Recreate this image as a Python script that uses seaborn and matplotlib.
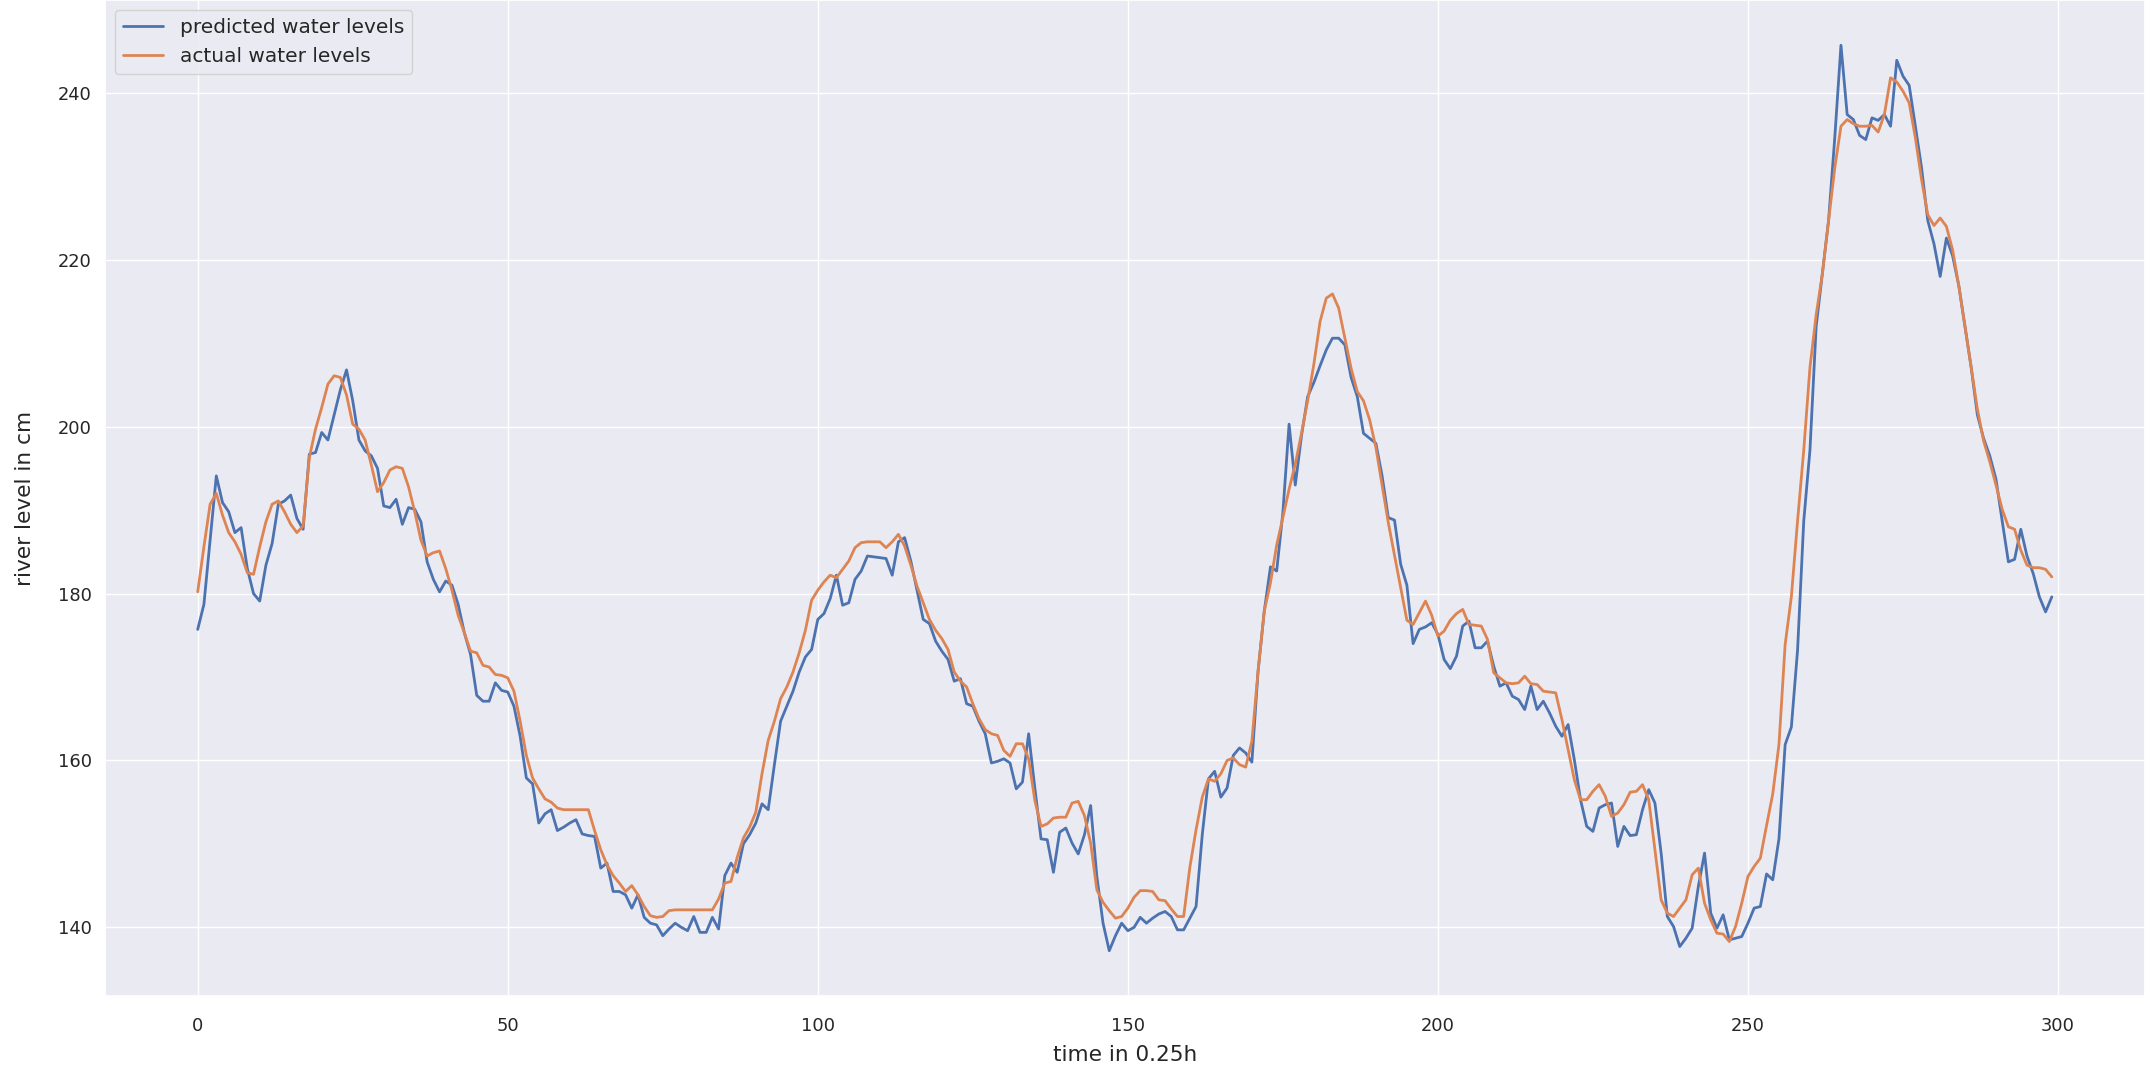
import numpy as np
import pandas as pd
import matplotlib
matplotlib.use("Agg")
import matplotlib.pyplot as plt
import seaborn as sns

predicted = [
    175.7, 178.7, 186.4, 194.1, 190.9, 189.8, 187.3, 187.9, 183.0, 180.0,
    179.1, 183.4, 186.0, 190.7, 191.1, 191.8, 189.0, 187.7, 196.7, 196.9,
    199.3, 198.4, 201.4, 204.4, 206.8, 203.1, 198.4, 197.1, 196.5, 195.0,
    190.5, 190.3, 191.3, 188.3, 190.3, 190.1, 188.6, 183.8, 181.7, 180.2,
    181.5, 181.0, 178.7, 175.3, 172.7, 167.8, 167.1, 167.1, 169.3, 168.4,
    168.2, 166.5, 162.9, 157.9, 157.2, 152.5, 153.6, 154.1, 151.6, 152.0,
    152.5, 152.9, 151.2, 151.0, 150.9, 147.1, 147.7, 144.3, 144.3, 143.9,
    142.3, 143.9, 141.2, 140.5, 140.3, 139.0, 139.8, 140.5, 140.0, 139.6,
    141.3, 139.4, 139.4, 141.2, 139.8, 146.2, 147.7, 146.6, 150.0, 151.1,
    152.5, 154.8, 154.1, 159.5, 164.7, 166.5, 168.3, 170.6, 172.4, 173.3,
    176.9, 177.6, 179.4, 182.2, 178.6, 178.9, 181.7, 182.7, 184.5, 184.4,
    184.3, 184.2, 182.2, 186.2, 186.7, 183.9, 180.4, 176.9, 176.4, 174.3,
    173.1, 172.1, 169.5, 169.8, 166.8, 166.5, 164.7, 163.2, 159.7, 159.9,
    160.2, 159.7, 156.6, 157.4, 163.2, 156.7, 150.6, 150.5, 146.6, 151.4,
    151.9, 150.1, 148.8, 151.1, 154.6, 146.1, 140.5, 137.2, 139.0, 140.5,
    139.6, 140.0, 141.2, 140.5, 141.1, 141.6, 141.9, 141.3, 139.7, 139.7,
    141.1, 142.5, 151.1, 157.8, 158.7, 155.6, 156.7, 160.6, 161.5, 160.9,
    159.8, 170.7, 177.9, 183.2, 182.7, 189.7, 200.3, 193.0, 198.9, 203.6,
    205.3, 207.3, 209.2, 210.6, 210.6, 209.8, 205.9, 203.6, 199.2, 198.6,
    198.0, 194.1, 189.1, 188.8, 183.5, 181.0, 174.0, 175.7, 176.0, 176.5,
    175.1, 172.1, 171.0, 172.5, 176.1, 176.7, 173.5, 173.5, 174.3, 171.3,
    168.9, 169.3, 167.7, 167.3, 166.1, 168.9, 166.1, 167.1, 165.7, 164.1,
    162.9, 164.3, 160.1, 155.3, 152.1, 151.5, 154.3, 154.7, 154.9, 149.7,
    152.1, 151.0, 151.1, 154.1, 156.5, 154.9, 148.9, 141.3, 140.1, 137.7,
    138.7, 139.9, 144.9, 148.9, 141.7, 139.9, 141.5, 138.5, 138.7, 138.9,
    140.5, 142.3, 142.5, 146.4, 145.7, 150.6, 161.9, 164.0, 173.2, 188.7,
    197.2, 212.0, 218.3, 224.7, 234.6, 245.7, 237.4, 236.8, 234.9, 234.4,
    237.0, 236.7, 237.4, 236.0, 243.9, 242.0, 240.9, 236.0, 231.0, 224.7,
    221.9, 218.0, 222.6, 220.5, 216.9, 212.0, 207.1, 201.4, 198.6, 196.5,
    193.7, 188.7, 183.8, 184.1, 187.7, 184.5, 182.4, 179.6, 177.8, 179.6,
]

actual = [
    180.2, 185.6, 190.7, 192.0, 189.4, 187.3, 186.2, 184.7, 182.5, 182.3,
    185.6, 188.6, 190.7, 191.1, 189.8, 188.3, 187.3, 188.1, 196.3, 199.7,
    202.3, 205.1, 206.1, 205.9, 203.8, 200.3, 199.7, 198.4, 195.4, 192.2,
    193.3, 194.8, 195.2, 195.0, 192.8, 189.8, 186.4, 184.5, 184.9, 185.1,
    183.0, 180.4, 177.4, 175.3, 173.1, 172.9, 171.4, 171.2, 170.3, 170.2,
    169.9, 168.3, 164.7, 160.6, 157.9, 156.6, 155.4, 155.0, 154.3, 154.1,
    154.1, 154.1, 154.1, 154.1, 151.6, 149.3, 147.5, 146.2, 145.3, 144.3,
    145.0, 143.9, 142.5, 141.4, 141.2, 141.3, 142.0, 142.1, 142.1, 142.1,
    142.1, 142.1, 142.1, 142.1, 143.4, 145.3, 145.5, 148.4, 150.7, 152.0,
    153.8, 158.4, 162.4, 164.7, 167.4, 168.8, 170.6, 172.9, 175.6, 179.2,
    180.4, 181.4, 182.2, 181.9, 182.9, 183.9, 185.5, 186.1, 186.2, 186.2,
    186.2, 185.5, 186.2, 187.1, 185.7, 183.4, 180.9, 178.9, 176.9, 175.6,
    174.6, 173.3, 170.6, 169.5, 168.8, 166.8, 165.0, 163.7, 163.2, 163.0,
    161.2, 160.5, 162.0, 162.0, 160.2, 155.2, 152.1, 152.4, 153.1, 153.2,
    153.2, 154.9, 155.1, 153.4, 150.1, 144.5, 143.0, 142.0, 141.1, 141.3,
    142.3, 143.6, 144.4, 144.4, 144.3, 143.3, 143.2, 142.2, 141.3, 141.3,
    147.2, 151.7, 155.6, 157.8, 157.5, 158.4, 160.0, 160.3, 159.5, 159.2,
    162.3, 170.7, 177.9, 181.3, 185.8, 189.1, 192.5, 195.5, 199.2, 203.1,
    207.5, 212.6, 215.4, 215.9, 214.2, 210.6, 207.0, 204.2, 203.1, 200.8,
    197.5, 193.0, 188.5, 184.6, 180.7, 176.8, 176.3, 177.7, 179.1, 177.4,
    174.9, 175.5, 176.8, 177.6, 178.1, 176.3, 176.2, 176.1, 174.5, 170.5,
    169.9, 169.3, 169.2, 169.3, 170.1, 169.2, 169.1, 168.3, 168.2, 168.1,
    164.9, 161.3, 157.7, 155.3, 155.3, 156.3, 157.1, 155.7, 153.3, 153.7,
    154.7, 156.2, 156.3, 157.1, 155.3, 149.3, 143.3, 141.7, 141.3, 142.3,
    143.3, 146.3, 147.1, 142.9, 140.9, 139.3, 139.2, 138.3, 140.1, 142.9,
    146.1, 147.3, 148.3, 152.2, 156.0, 161.9, 173.9, 179.6, 188.7, 197.2,
    207.1, 213.4, 218.3, 224.7, 231.0, 236.0, 236.8, 236.3, 236.0, 236.0,
    236.1, 235.3, 237.4, 241.8, 241.3, 240.2, 238.8, 234.6, 229.6, 225.4,
    224.1, 225.0, 224.0, 221.2, 216.9, 212.0, 207.1, 202.1, 198.3, 195.8,
    193.0, 190.1, 188.0, 187.7, 185.2, 183.4, 183.1, 183.1, 182.9, 182.0,
]

time_steps = list(range(len(predicted)))
series_labels = ["predicted water levels", "actual water levels"]

sns.set_theme(style="darkgrid")
plt.rcParams['font.family'] = ['DejaVu Sans']

df = pd.DataFrame({
    "time": time_steps + time_steps,
    "level": predicted + actual,
    "series": [series_labels[0]] * len(predicted) + [series_labels[1]] * len(actual),
})

W, H = 2153, 1069
fig = plt.figure(figsize=(W / 100, H / 100), dpi=100)
ax = fig.add_axes([105 / W, (H - 996) / H, 2039.5 / W, 996 / H])

palette = sns.color_palette("deep")
sns.lineplot(data=df, x="time", y="level", hue="series",
             palette=[palette[0], palette[1]], linewidth=2.0, ax=ax)

ax.tick_params(axis="both", labelsize=12.9)
ax.tick_params(axis="x", pad=9)
ax.set_xlabel("time in 0.25h", fontsize=15.6, labelpad=7)
ax.set_ylabel("river level in cm", fontsize=15.6, labelpad=16)
ax.set_xticks([0, 50, 100, 150, 200, 250, 300])
ax.set_yticks([140, 160, 180, 200, 220, 240])
leg = ax.legend(loc="upper left", fontsize=14.5, title=None)

fig.savefig("out.png", dpi=100)
